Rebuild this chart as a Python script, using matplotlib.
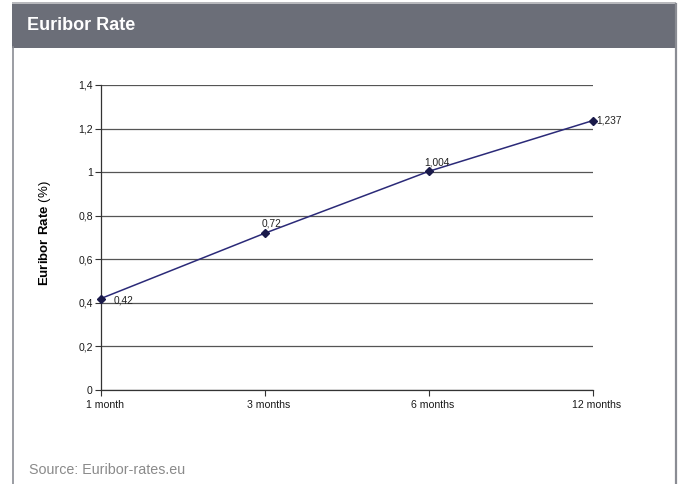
import matplotlib.pyplot as plt
from matplotlib.patches import Rectangle
from matplotlib.lines import Line2D
from matplotlib.transforms import ScaledTranslation

plt.rcParams['font.family'] = ['Liberation Sans', 'DejaVu Sans']
plt.rcParams['mathtext.fontset'] = 'custom'
plt.rcParams['mathtext.bf'] = 'Liberation Sans:bold'
plt.rcParams['mathtext.rm'] = 'Liberation Sans'

maturities = ["1 month", "3 months", "6 months", "12 months"]
rates = [0.42, 0.72, 1.004, 1.237]
rate_labels = ["0,42", "0,72", "1,004", "1,237"]
yticks = [0, 0.2, 0.4, 0.6, 0.8, 1.0, 1.2, 1.4]
ytick_labels = ["0", "0,2", "0,4", "0,6", "0,8", "1", "1,2", "1,4"]

W, H = 681, 484
fig = plt.figure(figsize=(W / 100, H / 100), dpi=100)
fig.patch.set_facecolor("white")

# panel frame and header band
fig.add_artist(Rectangle((12 / W, 1 - 47.5 / H), 664 / W, 44 / H,
                         transform=fig.transFigure, facecolor="#6b6e78",
                         edgecolor="none"))
fig.add_artist(Rectangle((12 / W, 1 - 4 / H), 664 / W, 1.5 / H,
                         transform=fig.transFigure, facecolor="#b8b9bd",
                         edgecolor="none"))
fig.add_artist(Line2D([12.5 / W, 12.5 / W], [0, 1 - 47 / H],
                      transform=fig.transFigure, color="#8a8c93", lw=1.2))
fig.add_artist(Line2D([676 / W, 676 / W], [0, 1 - 4 / H],
                      transform=fig.transFigure, color="#8a8c93", lw=1.6))
fig.text(27 / W, 1 - 26 / H, "Euribor Rate", color="white", fontsize=13,
         fontweight="bold", va="center", ha="left")

ax = fig.add_axes([101 / W, 1 - 390 / H, 492 / W, 305 / H])
x = list(range(len(maturities)))
ax.plot(x, rates, color="#2b2a78", lw=1.1, marker="D", markersize=3.8,
        markerfacecolor="#1a1a4a", markeredgecolor="#1a1a4a", zorder=3,
        clip_on=False)

ax.set_xlim(0, 3)
ax.set_ylim(0, 1.4)
ax.set_yticks(yticks)
ax.set_yticklabels(ytick_labels)
ax.set_xticks(x)
ax.set_xticklabels(maturities)
ax.yaxis.grid(True, color="#555555", lw=0.9)
ax.set_axisbelow(True)
ax.tick_params(axis="both", labelsize=7.6, length=4, width=0.8, color="#333333",
               labelcolor="#1a1a1a", pad=2)
ax.tick_params(axis="x", pad=3)
# category labels sit a little right of their ticks
nudge = ScaledTranslation(4 / 100, 0, fig.dpi_scale_trans)
for lbl in ax.get_xticklabels():
    lbl.set_transform(lbl.get_transform() + nudge)
for side in ["top", "right"]:
    ax.spines[side].set_visible(False)
for side in ["left", "bottom"]:
    ax.spines[side].set_color("#333333")
    ax.spines[side].set_linewidth(0.9)

# point labels
offsets = [(9, -5, "left", "bottom"), (5, 3, "center", "bottom"),
           (6, 3, "center", "bottom"), (2, 0, "left", "center")]
for xi, yi, lab, (dx, dy, ha, va) in zip(x, rates, rate_labels, offsets):
    ax.annotate(lab, (xi, yi), xytext=(dx, dy), textcoords="offset points",
                ha=ha, va=va, fontsize=7.3, color="#222222",
                annotation_clip=False)

fig.text(45 / W, 1 - 233 / H, r"$\bf{Euribor\ Rate}$ (%)", rotation=90,
         ha="center", va="center", fontsize=9.5)

fig.text(29 / W, 1 - 470 / H, "Source: Euribor-rates.eu", color="#8a8a8a",
         fontsize=10.3, ha="left", va="center")

fig.savefig("out.png", dpi=100)
